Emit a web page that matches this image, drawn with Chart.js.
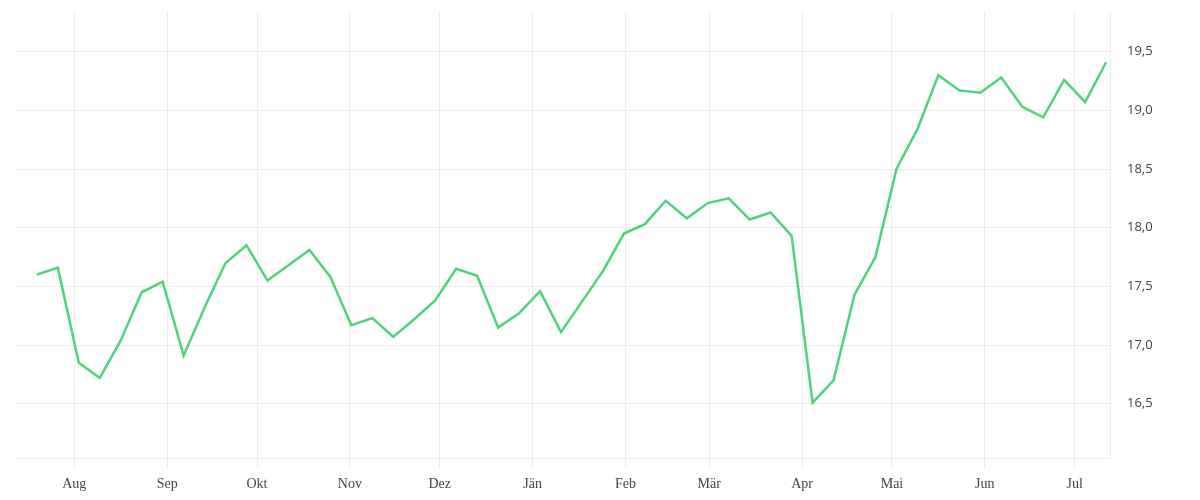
<!DOCTYPE html>
<html>
<head>
<meta charset="utf-8">
<script src="https://cdn.jsdelivr.net/npm/chart.js@4"></script>
<style>
  body { margin: 0; background: #fff; }
</style>
</head>
<body>
<canvas id="chart" width="1200" height="500"></canvas>
<script>
// weekly observations
var weeks = [
  '2018-07-19','2018-07-26','2018-08-02','2018-08-09','2018-08-16','2018-08-23','2018-08-30',
  '2018-09-06','2018-09-13','2018-09-20','2018-09-27','2018-10-04','2018-10-11','2018-10-18',
  '2018-10-25','2018-11-01','2018-11-08','2018-11-15','2018-11-22','2018-11-29','2018-12-06',
  '2018-12-13','2018-12-20','2018-12-27','2019-01-03','2019-01-10','2019-01-17','2019-01-24',
  '2019-01-31','2019-02-07','2019-02-14','2019-02-21','2019-02-28','2019-03-07','2019-03-14',
  '2019-03-21','2019-03-28','2019-04-04','2019-04-11','2019-04-18','2019-04-25','2019-05-02',
  '2019-05-09','2019-05-16','2019-05-23','2019-05-30','2019-06-06','2019-06-13','2019-06-20',
  '2019-06-27','2019-07-04','2019-07-11'
];
var values = [
  17.60, 17.66, 16.85, 16.72, 17.04, 17.45, 17.54, 16.91, 17.32, 17.70,
  17.85, 17.55, 17.68, 17.81, 17.58, 17.17, 17.23, 17.07, 17.22, 17.38,
  17.65, 17.59, 17.15, 17.27, 17.46, 17.11, 17.37, 17.63, 17.95, 18.03,
  18.23, 18.08, 18.21, 18.25, 18.07, 18.13, 17.93, 16.51, 16.70, 17.43,
  17.75, 18.50, 18.84, 19.30, 19.17, 19.15, 19.28, 19.03, 18.94, 19.26,
  19.07, 19.41
];

// month ticks
var monthStarts = ['2018-08-01','2018-09-01','2018-10-01','2018-11-01','2018-12-01','2019-01-01',
                   '2019-02-01','2019-03-01','2019-04-01','2019-05-01','2019-06-01','2019-07-01'];
var monthLabels = ['Aug','Sep','Okt','Nov','Dez','Jän','Feb','Mär','Apr','Mai','Jun','Jul'];
var yTicks = [16.5, 17.0, 17.5, 18.0, 18.5, 19.0, 19.5];

var DAY = 86400000;
var origin = Date.parse('2018-08-01T00:00:00Z');
function dayOf(s, time) {
  return (Date.parse(s + 'T' + time + 'Z') - origin) / DAY;
}

var points = weeks.map(function (w, i) {
  return { x: dayOf(w, '12:00:00'), y: values[i] };
});
var monthDays = monthStarts.map(function (m) { return dayOf(m, '00:00:00'); });

var gridColor = '#ececec';

new Chart(document.getElementById('chart'), {
  type: 'line',
  data: {
    datasets: [{
      data: points,
      borderColor: 'rgb(77, 212, 122)',
      borderWidth: 2.5,
      pointRadius: 0,
      tension: 0,
      fill: false
    }]
  },
  options: {
    responsive: false,
    animation: false,
    layout: { padding: { left: 15, top: 12, right: 0, bottom: 0 } },
    plugins: { legend: { display: false }, tooltip: { enabled: false } },
    scales: {
      x: {
        type: 'linear',
        min: -19.8,
        max: 345.8,
        afterBuildTicks: function (scale) {
          scale.ticks = monthDays.map(function (d) { return { value: d }; });
        },
        afterFit: function (scale) {
          scale.height = 42;
          scale.paddingLeft = 0;
          scale.paddingRight = 0;
        },
        grid: { color: gridColor, tickLength: 10, drawTicks: true },
        border: { display: true, color: gridColor },
        ticks: {
          autoSkip: false,
          maxRotation: 0,
          padding: 8,
          color: '#444',
          font: { family: '"Liberation Serif", serif', size: 14 },
          callback: function (v, i) { return monthLabels[i]; }
        }
      },
      y: {
        position: 'right',
        min: 16.038,
        max: 19.838,
        afterBuildTicks: function (scale) {
          scale.ticks = yTicks.map(function (v) { return { value: v }; });
        },
        afterFit: function (scale) {
          scale.width = 90;
          scale.paddingTop = 0;
          scale.paddingBottom = 0;
        },
        grid: { color: gridColor, drawTicks: false },
        border: { display: true, color: gridColor },
        ticks: {
          padding: 17,
          color: '#444',
          font: { family: '"Open Sans", sans-serif', size: 13 },
          callback: function (v) { return v.toFixed(1).replace('.', ','); }
        }
      }
    }
  }
});
</script>
</body>
</html>
